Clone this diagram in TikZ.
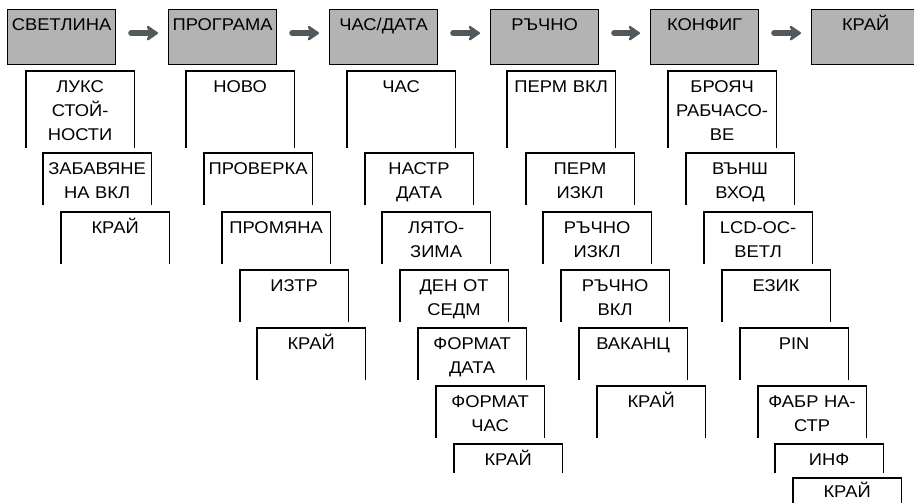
\documentclass[tikz,border=0pt]{standalone}
\usepackage{fontspec}
\setmainfont{Liberation Sans}[FakeStretch=1.08]
\usetikzlibrary{arrows.meta}
\definecolor{menu_gray}{RGB}{179,179,179}
\definecolor{arrow_gray}{RGB}{82,89,93}

\begin{document}
\begin{tikzpicture}[x=1pt,y=-1pt,line width=1.2pt]
    \tikzstyle{entry}=[anchor=north west, inner sep=0pt, align=center, text width=107pt, text height=20.5pt, text depth=30.5pt, font=\fontsize{17}{24}\selectfont]
    \tikzstyle{menu}=[style=entry, text width=108pt, text depth=34.5pt, draw=black, fill=menu_gray]
    \tikzstyle{first}=[style=entry, text depth=55.5pt]
    \tikzstyle{short}=[style=entry, text depth=7.5pt]
    \tikzstyle{last}=[style=entry, text height=18.5pt, text depth=8pt]
    \tikzstyle{go}=[-{Stealth[length=14pt,width=19pt,inset=5pt,round]}, line width=6pt, line cap=round, draw=arrow_gray, shorten <=15pt, shorten >=10pt]

    \path[use as bounding box] (0,0) rectangle (914,503);
    \clip (0,0) rectangle (914,503);

    % main menu
    \node[menu] (svet) at (7,9)   {СВЕТЛИНА};
    \node[menu] (prog) at (168,9) {ПРОГРАМА};
    \node[menu] (chas) at (329,9) {ЧАС/ДАТА};
    \node[menu] (rach) at (490,9) {РЪЧНО};
    \node[menu] (konf) at (650,9) {КОНФИГ};
    \node[menu] (kraj) at (811,9) {КРАЙ};
    \foreach \a/\b in {svet/prog,prog/chas,chas/rach,rach/konf,konf/kraj}
      \draw[go] ([yshift=4pt]\a.east) -- ([yshift=4pt]\b.west);

    % СВЕТЛИНА
    \node[first] (s1) at (26,71)  {ЛУКС\\СТОЙ-\\НОСТИ};
    \node[entry] (s2) at (43,153) {ЗАБАВЯНЕ\\НА ВКЛ};
    \node[entry] (s3) at (61,212) {КРАЙ};

    % ПРОГРАМА
    \node[first] (p1) at (186,71)  {НОВО};
    \node[entry] (p2) at (204,153) {ПРОВЕРКА};
    \node[entry] (p3) at (222,212) {ПРОМЯНА};
    \node[entry] (p4) at (240,270) {ИЗТР};
    \node[entry] (p5) at (257,328) {КРАЙ};

    % ЧАС/ДАТА
    \node[first] (c1) at (347,71)  {ЧАС};
    \node[entry] (c2) at (365,153) {НАСТР\\ДАТА};
    \node[entry] (c3) at (382,212) {ЛЯТО-\\ЗИМА};
    \node[entry] (c4) at (400,270) {ДЕН ОТ\\СЕДМ};
    \node[entry] (c5) at (418,328) {ФОРМАТ\\ДАТА};
    \node[entry] (c6) at (436,386) {ФОРМАТ\\ЧАС};
    \node[short] (c7) at (454,444) {КРАЙ};

    % РЪЧНО
    \node[first] (r1) at (507,71)  {ПЕРМ ВКЛ};
    \node[entry] (r2) at (526,153) {ПЕРМ\\ИЗКЛ};
    \node[entry] (r3) at (543,212) {РЪЧНО\\ИЗКЛ};
    \node[entry] (r4) at (561,270) {РЪЧНО\\ВКЛ};
    \node[entry] (r5) at (579,328) {ВАКАНЦ};
    \node[entry] (r6) at (597,386) {КРАЙ};

    % КОНФИГ
    \node[first] (k1) at (668,71)  {БРОЯЧ\\РАБЧАСО-\\ВЕ};
    \node[entry] (k2) at (686,153) {ВЪНШ\\ВХОД};
    \node[entry] (k3) at (704,212) {LCD-ОС-\\ВЕТЛ};
    \node[entry] (k4) at (722,270) {ЕЗИК};
    \node[entry] (k5) at (740,328) {PIN};
    \node[entry] (k6) at (758,386) {ФАБР НА-\\СТР};
    \node[short] (k7) at (775,444) {ИНФ};
    \node[last]  (k8) at (793,478) {КРАЙ};

    % open boxes
    \foreach \n in {s1,s2,s3,p1,p2,p3,p4,p5,c1,c2,c3,c4,c5,c6,c7,r1,r2,r3,r4,r5,r6,k1,k2,k3,k4,k5,k6,k7,k8}
      \draw (\n.south west) |- (\n.north east) -- (\n.south east);
\end{tikzpicture}
\end{document}
